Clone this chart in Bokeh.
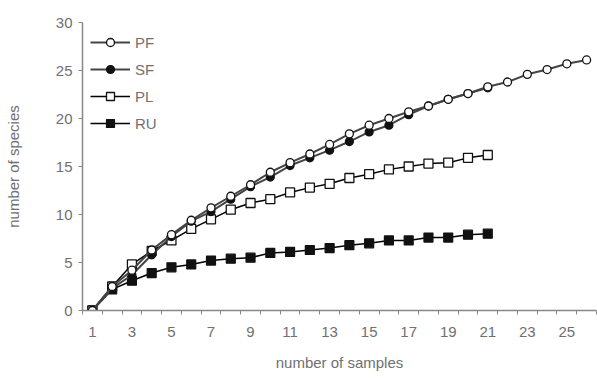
from bokeh.plotting import figure
from bokeh.models import FixedTicker, Range1d, Legend
from bokeh.embed import file_html
from bokeh.resources import INLINE

samples_pf = list(range(1, 27))
samples_other = list(range(1, 22))

pf = [0, 2.5, 4.2, 6.3, 7.9, 9.4, 10.7, 11.9, 13.1, 14.4, 15.4, 16.3, 17.3,
      18.4, 19.3, 20.0, 20.7, 21.3, 22.0, 22.6, 23.3, 23.8, 24.6, 25.1, 25.7, 26.1]
sf = [0, 2.3, 3.7, 5.8, 7.7, 9.3, 10.3, 11.6, 12.9, 13.9, 15.1, 15.9, 16.7,
      17.6, 18.6, 19.3, 20.4, 21.3, 22.0, 22.6, 23.2]
pl = [0, 2.5, 4.8, 6.2, 7.3, 8.5, 9.5, 10.5, 11.2, 11.6, 12.3, 12.8, 13.2,
      13.8, 14.2, 14.7, 15.0, 15.3, 15.4, 15.9, 16.2]
ru = [0, 2.2, 3.1, 3.9, 4.5, 4.8, 5.2, 5.4, 5.5, 6.0, 6.1, 6.3, 6.5,
      6.8, 7.0, 7.3, 7.3, 7.6, 7.6, 7.9, 8.0]

x_tick_labels = list(range(1, 26, 2))
y_ticks = [0, 5, 10, 15, 20, 25, 30]

FONT = "Liberation Sans"
GRAY = "#707070"

p = figure(width=597, height=385, output_backend="svg", toolbar_location=None,
           x_range=Range1d(0.5, 26.5), y_range=Range1d(0, 30),
           min_border_left=82, min_border_right=1, min_border_top=22,
           min_border_bottom=75)
p.outline_line_color = None
p.xgrid.visible = False
p.ygrid.visible = False
p.background_fill_color = "white"

# x axis
p.xaxis.ticker = FixedTicker(ticks=x_tick_labels,
                             minor_ticks=[i + 0.5 for i in range(0, 27)])
p.xaxis.major_tick_line_color = None
p.xaxis.major_tick_out = 4
p.xaxis.major_tick_in = 0
p.xaxis.minor_tick_out = 4
p.xaxis.minor_tick_in = 0
p.xaxis.minor_tick_line_color = "#888888"
p.xaxis.major_label_standoff = 12
p.xaxis.axis_label = "number of samples"
p.xaxis.axis_label_standoff = 14

# y axis
p.yaxis.ticker = FixedTicker(ticks=y_ticks, minor_ticks=[])
p.yaxis.major_tick_out = 4
p.yaxis.major_tick_in = 0
p.yaxis.major_tick_line_color = "#888888"
p.yaxis.major_label_standoff = 6
p.yaxis.axis_label = "number of species"
p.yaxis.axis_label_standoff = 31

for ax in (p.xaxis, p.yaxis):
    ax.axis_line_color = "#888888"
    ax.axis_line_width = 1.5
    ax.major_label_text_font = FONT
    ax.major_label_text_font_size = "15px"
    ax.major_label_text_color = GRAY
    ax.axis_label_text_font = FONT
    ax.axis_label_text_font_size = "15px"
    ax.axis_label_text_color = GRAY
    ax.axis_label_text_font_style = "normal"

r_ru_l = p.line(samples_other, ru, line_color="black", line_width=1.5)
r_ru_m = p.scatter(samples_other, ru, marker="square", size=9,
                   fill_color="#111111", line_color="#111111", line_width=1.2)
r_pl_l = p.line(samples_other, pl, line_color="black", line_width=1.5)
r_pl_m = p.scatter(samples_other, pl, marker="square", size=9,
                   fill_color="white", line_color="#111111", line_width=1.3)
r_sf_l = p.line(samples_other, sf, line_color="#444444", line_width=2)
r_sf_m = p.scatter(samples_other, sf, marker="circle", size=8,
                   fill_color="#111111", line_color="#111111", line_width=1.2)
r_pf_l = p.line(samples_pf, pf, line_color="#444444", line_width=2)
r_pf_m = p.scatter(samples_pf, pf, marker="circle", size=8,
                   fill_color="white", line_color="#111111", line_width=1.3)

legend = Legend(items=[("PF", [r_pf_l, r_pf_m]), ("SF", [r_sf_l, r_sf_m]),
                       ("PL", [r_pl_l, r_pl_m]), ("RU", [r_ru_l, r_ru_m])],
                location=(8, 177))
legend.padding = 0
legend.margin = 0
legend.border_line_color = None
legend.background_fill_alpha = 0
legend.glyph_width = 40
legend.glyph_height = 20
legend.label_height = 20
legend.spacing = 7
legend.label_standoff = 5
legend.label_text_font = FONT
legend.label_text_font_size = "15px"
legend.label_text_color = GRAY
p.add_layout(legend, "center")

open("out.html", "w").write(file_html(p, INLINE))
